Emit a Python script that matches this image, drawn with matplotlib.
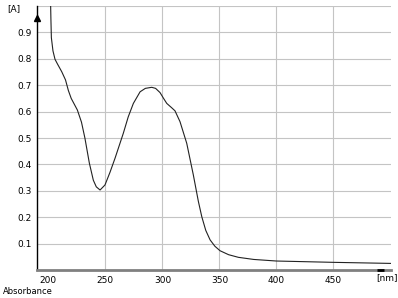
import numpy as np
import matplotlib.pyplot as plt

# espectro (nm, absorbancia)
wl = [201.5, 202.2, 202.6, 204, 205.8, 208, 211.7, 215, 217.5, 220, 225.4, 229,
      232, 235.9, 239.4, 242, 245.3, 249.6, 254, 258.4, 265.7, 270, 274.5, 280.4,
      285, 290.6, 294, 297.9, 301, 303.8, 308, 311, 315.4, 321.3, 327.1, 331.5,
      334.5, 338, 341.8, 346, 350.5, 358, 366.6, 380, 400, 420, 450, 475, 500]
absb = [1.1, 0.95, 0.88, 0.83, 0.798, 0.78, 0.751, 0.72, 0.68, 0.65, 0.606, 0.56,
        0.5, 0.405, 0.34, 0.315, 0.303, 0.322, 0.37, 0.423, 0.518, 0.58, 0.631, 0.675,
        0.688, 0.692, 0.688, 0.672, 0.65, 0.631, 0.615, 0.603, 0.562, 0.48, 0.36, 0.26,
        0.202, 0.15, 0.114, 0.09, 0.073, 0.058, 0.048, 0.04, 0.034, 0.032, 0.029, 0.027, 0.025]

xticks = [200, 250, 300, 350, 400, 450]
yticks = [0.1, 0.2, 0.3, 0.4, 0.5, 0.6, 0.7, 0.8, 0.9]
vgrid = [250, 300, 350, 400, 450]
hgrid = [0.1, 0.2, 0.3, 0.4, 0.5, 0.6, 0.7, 0.8, 0.9, 1.0]

fig = plt.figure(figsize=(3.98, 2.98), dpi=100)
ax = fig.add_axes([37/398, 1-270/298, 353.5/398, 264/298])

for v in vgrid:
    ax.axvline(v, color='#c4c4c4', lw=0.8, zorder=0)
for h in hgrid:
    ax.axhline(h, color='#c4c4c4', lw=0.8, zorder=0)

ax.plot(wl, absb, color='#222222', lw=0.8, clip_on=True)

ax.set_xlim(190, 500)
ax.set_ylim(0, 1.0)
ax.set_xticks(xticks)
ax.set_yticks(yticks)
ax.set_xticklabels([str(t) for t in xticks], fontsize=6.5)
ax.set_yticklabels([str(t) for t in yticks], fontsize=6.5)
ax.tick_params(length=0, pad=4)

for s in ['top', 'right']:
    ax.spines[s].set_visible(False)
ax.spines['left'].set_color('black')
ax.spines['left'].set_linewidth(1.0)
ax.spines['bottom'].set_color('#808080')
ax.spines['bottom'].set_linewidth(2.0)

# flecha del eje y y marca del eje x
ax.plot([0], [0.955], marker='^', color='black', markersize=4,
        transform=ax.transAxes, clip_on=False, zorder=5)
ax.plot([488, 494], [0, 0], color='black', lw=2.0, clip_on=False,
        solid_capstyle='butt', zorder=5)

fig.text(7/398, 1-9/298, '[A]', fontsize=6.5, va='center', ha='left')
fig.text(376/398, 1-278/298, '[nm]', fontsize=6.5, va='center', ha='left')
fig.text(3/398, 1-291/298, 'Absorbance', fontsize=6, va='center', ha='left')

fig.savefig('out.png', dpi=100)
